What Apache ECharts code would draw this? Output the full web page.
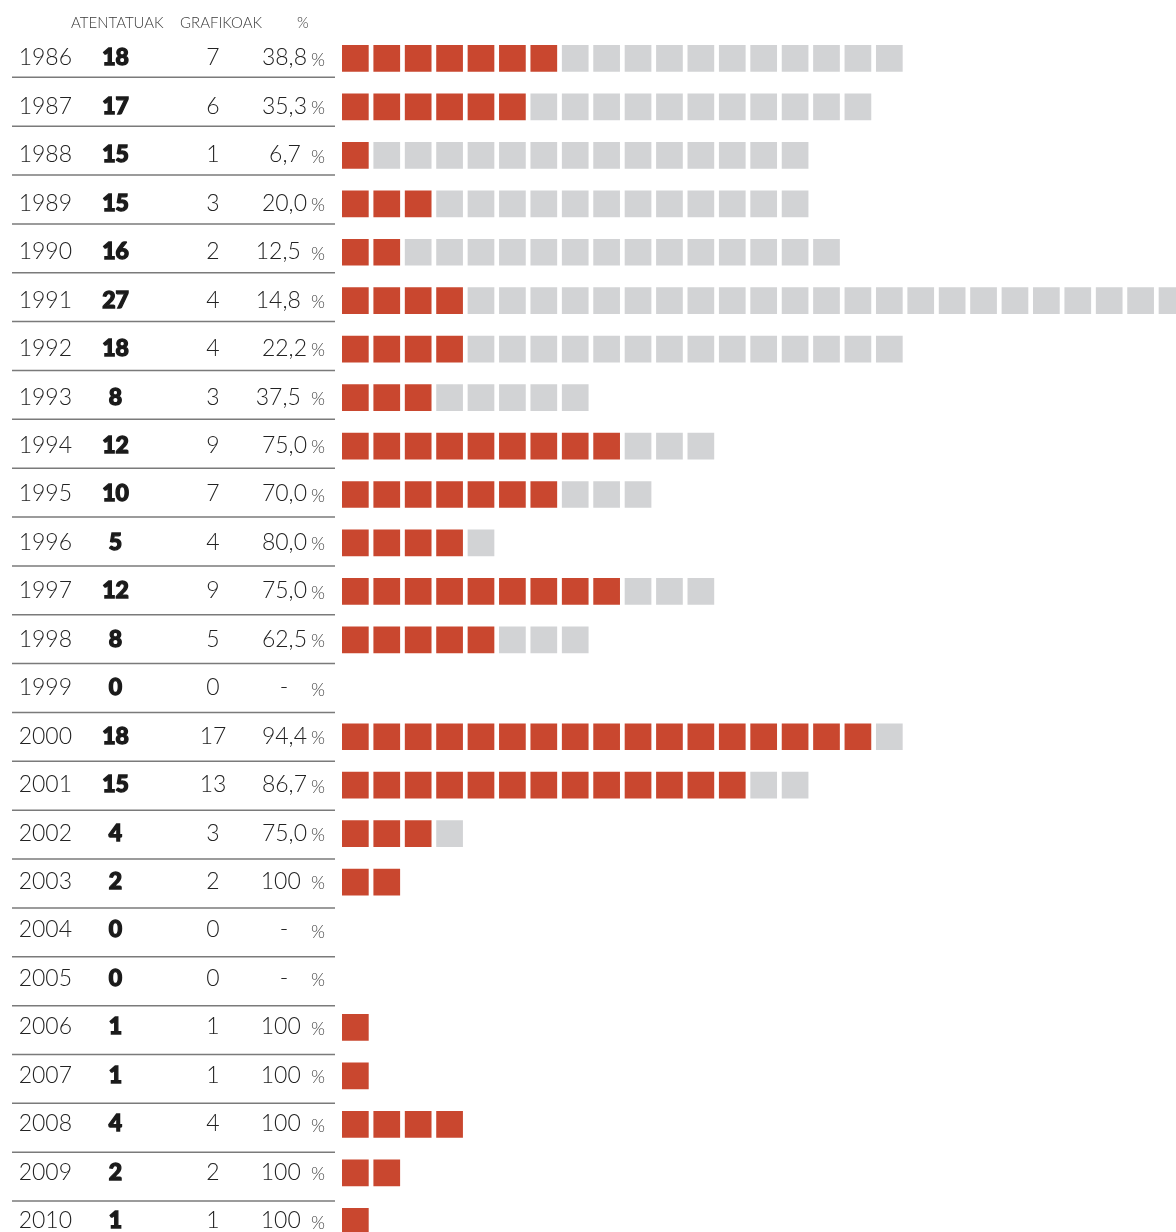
<!DOCTYPE html>
<html>
<head>
<meta charset="utf-8">
<style>
  html, body { margin: 0; padding: 0; background: #ffffff; overflow: hidden; }
  #chart { width: 1176px; height: 1260px; }
</style>
<script src="https://cdn.jsdelivr.net/npm/echarts@6/dist/echarts.min.js"></script>
</head>
<body>
<div id="chart"></div>
<script>
// Attacks per year, and how many of them were "graphic" ones
const years = ['1986','1987','1988','1989','1990','1991','1992','1993','1994','1995','1996','1997','1998','1999','2000','2001','2002','2003','2004','2005','2006','2007','2008','2009','2010'];
const atentatuak = [18, 17, 15, 15, 16, 27, 18, 8, 12, 10, 5, 12, 8, 0, 18, 15, 4, 2, 0, 0, 1, 1, 4, 2, 1];
const grafikoak  = [7, 6, 1, 3, 2, 4, 4, 3, 9, 7, 4, 9, 5, 0, 17, 13, 3, 2, 0, 0, 1, 1, 4, 2, 1];
const ehunekoa   = ['38,8','35,3','6,7 ','20,0','12,5 ','14,8 ','22,2','37,5 ','75,0','70,0','80,0','75,0','62,5','-\u00a0\u00a0\u00a0','94,4','86,7','75,0','100 ','-\u00a0\u00a0\u00a0','-\u00a0\u00a0\u00a0','100 ','100 ','100 ','100 ','100 '];
const headers = ['ATENTATUAK', 'GRAFIKOAK', '%'];

const RED = '#C9472F';
const GREY = '#D2D3D5';
const FONT = 'Lato';

// One square per attack: red for graphic ones, grey for the rest
const squares = [];
years.forEach((y, i) => {
  for (let c = 0; c < atentatuak[i]; c++) {
    squares.push([c, i, c < grafikoak[i] ? 1 : 0]);
  }
});
const rows = years.map((y, i) => [0, i]);

const chart = echarts.init(document.getElementById('chart'), null, { renderer: 'canvas' });

chart.setOption({
  animation: false,
  backgroundColor: '#ffffff',
  grid: [
    { left: 342, right: 0, top: 34.2, height: 1211.3 },
    { left: 12, width: 323, top: 28.44, height: 1221.5 }
  ],
  xAxis: [
    { gridIndex: 0, type: 'value', min: 0, max: 26.552, show: false },
    { gridIndex: 1, type: 'value', min: 0, max: 1, show: false }
  ],
  yAxis: [
    { gridIndex: 0, type: 'category', data: years, inverse: true, show: false },
    { gridIndex: 1, type: 'category', data: years, inverse: true, show: false }
  ],
  graphic: [
    { type: 'text', left: 71, top: 16, style: { text: headers[0], font: '300 15px ' + FONT, fill: '#3a3a3a' } },
    { type: 'text', left: 180, top: 16, style: { text: headers[1], font: '300 15px ' + FONT, fill: '#3a3a3a' } },
    { type: 'text', left: 297, top: 16, style: { text: headers[2], font: '300 15px ' + FONT, fill: '#3a3a3a' } }
  ],
  series: [
    {
      // waffle squares
      type: 'custom',
      xAxisIndex: 0, yAxisIndex: 0,
      clip: true,
      data: squares,
      renderItem(params, api) {
        const p = api.coord([api.value(0), api.value(1)]);
        const pitch = api.size([1, 0])[0];
        const band = api.size([0, 1])[1];
        const h = band * 0.551;
        return {
          type: 'rect',
          shape: { x: p[0], y: p[1] - h / 2, width: pitch * 0.85, height: h },
          style: { fill: api.value(2) === 1 ? RED : GREY }
        };
      }
    },
    {
      // table text for each year
      type: 'custom',
      xAxisIndex: 0, yAxisIndex: 0,
      clip: false,
      data: rows,
      renderItem(params, api) {
        const i = api.value(1);
        const y = api.coord([0, i])[1] - 0.5;
        const t = (x, text, align, font, fill, extra) => ({
          type: 'text', x: x, y: y,
          style: Object.assign({ text: text, align: align, verticalAlign: 'middle', font: font, fill: fill }, extra || {})
        });
        return {
          type: 'group',
          children: [
            t(72, years[i], 'right', '300 23px ' + FONT, '#222'),
            t(115.5, String(atentatuak[i]), 'center', '900 23px ' + FONT, '#1a1a1a', { stroke: '#1a1a1a', lineWidth: 1.3 }),
            t(213, String(grafikoak[i]), 'center', '300 23px ' + FONT, '#222'),
            t(307, ehunekoa[i], 'right', '300 23px ' + FONT, '#222'),
            { type: 'text', x: 311, y: y + 2, style: { text: '%', align: 'left', verticalAlign: 'middle', font: '300 18px ' + FONT, fill: '#444' } }
          ]
        };
      }
    },
    {
      // separator rules under each row
      type: 'custom',
      xAxisIndex: 1, yAxisIndex: 1,
      clip: false,
      data: rows,
      renderItem(params, api) {
        const i = api.value(1);
        const a = api.coord([0, i]);
        const b = api.coord([1, i]);
        const yb = a[1] + api.size([0, 1])[1] / 2;
        return {
          type: 'line',
          shape: { x1: a[0], y1: yb, x2: b[0], y2: yb },
          style: { stroke: '#7a7a7a', lineWidth: 1.5 }
        };
      }
    }
  ]
});
</script>
</body>
</html>
